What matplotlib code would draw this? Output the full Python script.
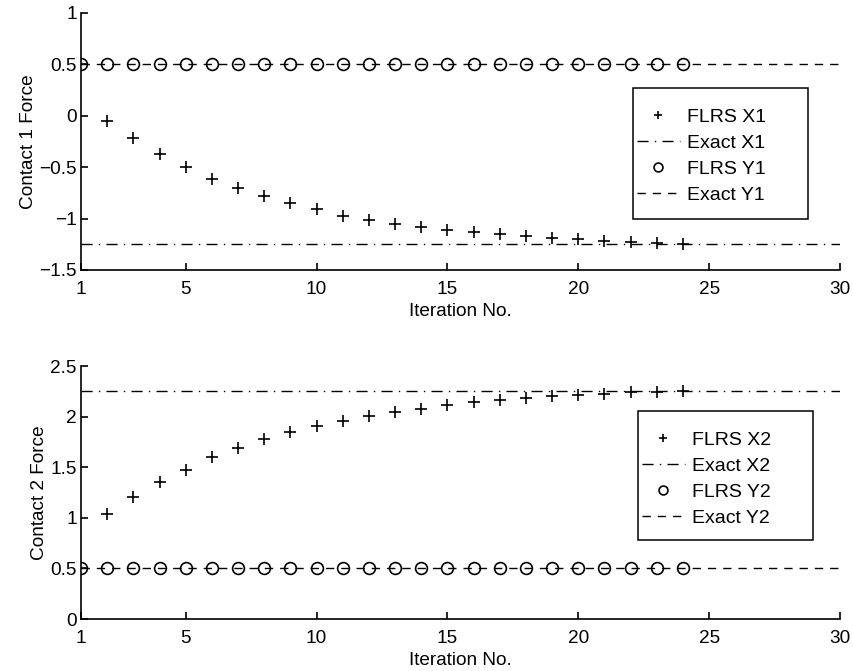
import matplotlib
matplotlib.use("Agg")
import matplotlib.pyplot as plt
from matplotlib.patches import Rectangle

plt.rcParams['font.family'] = ['Liberation Sans', 'DejaVu Sans']

iterations = list(range(2, 25))
iterations_y = list(range(1, 25))

flrs_x1 = [-0.05, -0.22, -0.37, -0.50, -0.61, -0.70, -0.785, -0.85, -0.91, -0.97,
           -1.01, -1.05, -1.08, -1.11, -1.13, -1.15, -1.17, -1.19, -1.20, -1.22,
           -1.23, -1.24, -1.245]
flrs_y1 = [0.5] * 24
exact_x1 = -1.25
exact_y1 = 0.5

flrs_x2 = [1.04, 1.21, 1.35, 1.47, 1.60, 1.69, 1.78, 1.85, 1.91, 1.96,
           2.01, 2.05, 2.08, 2.11, 2.14, 2.16, 2.18, 2.20, 2.21, 2.22,
           2.24, 2.24, 2.25]
flrs_y2 = [0.5] * 24
exact_x2 = 2.25
exact_y2 = 0.5

xticks = [1, 5, 10, 15, 20, 25, 30]
yticks_top = [-1.5, -1, -0.5, 0, 0.5, 1]
yticklabels_top = ['\u22121.5', '\u22121', '\u22120.5', '0', '0.5', '1']
yticks_bot = [0, 0.5, 1, 1.5, 2, 2.5]
yticklabels_bot = ['0', '0.5', '1', '1.5', '2', '2.5']

W, H = 854, 671
FS = 13.7
fig = plt.figure(figsize=(W / 100, H / 100), dpi=100)

def make_axes(l, t, r, b):
    return fig.add_axes([l / W, 1 - b / H, (r - l) / W, (b - t) / H])

AX1 = (81, 13, 840, 270)
AX2 = (81, 366, 840, 619)
ax1 = make_axes(*AX1)
ax2 = make_axes(*AX2)

def px_to_axes(axbox, px, py):
    l, t, r, b = axbox
    return (px - l) / (r - l), (b - py) / (b - t)

def draw(ax, axbox, fx, fy, ex, ey, n, yticks, yticklabels, ylim, ylabel, legbox):
    xs = [1, 30]
    h1, = ax.plot(iterations, fx, linestyle='none', marker='+', markersize=8.5,
                  markeredgewidth=1.2, color='black', label=f'FLRS X{n}')
    h2, = ax.plot(xs, [ex, ex], linestyle=(0, (8, 4.5, 1, 4.5)), linewidth=1.0,
                  color='black', label=f'Exact X{n}')
    h3, = ax.plot(iterations_y, fy, linestyle='none', marker='o', markersize=8.5,
                  markerfacecolor='none', markeredgewidth=1.2, color='black',
                  label=f'FLRS Y{n}')
    h4, = ax.plot(xs, [ey, ey], linestyle=(0, (6, 5)), linewidth=1.0, color='black',
                  label=f'Exact Y{n}')
    ax.set_xlim(1, 30)
    ax.set_ylim(*ylim)
    ax.set_xticks(xticks)
    ax.set_xticklabels([str(v) for v in xticks])
    ax.set_yticks(yticks)
    ax.set_yticklabels(yticklabels)
    ax.spines['top'].set_visible(False)
    ax.spines['right'].set_visible(False)
    ax.spines['left'].set_linewidth(1.2)
    ax.spines['bottom'].set_linewidth(1.2)
    ax.tick_params(direction='in', length=5, width=1.2, labelsize=FS)
    ax.tick_params(axis='x', pad=8.1)
    ax.tick_params(axis='y', pad=3)
    ax.set_xlabel('Iteration No.', fontsize=FS, labelpad=3.7)
    ax.set_ylabel(ylabel, fontsize=FS, labelpad=2)

    # legend frame
    bl, bt, br, bb = legbox
    x0, y0 = px_to_axes(axbox, bl, bb)
    x1, y1 = px_to_axes(axbox, br, bt)
    rect = Rectangle((x0, y0), x1 - x0, y1 - y0, transform=ax.transAxes,
                     facecolor='white', edgecolor='black', linewidth=1.1,
                     zorder=10, clip_on=False)
    ax.add_patch(rect)
    ax_, ay_ = px_to_axes(axbox, bl + 4, bt + 20)
    leg = ax.legend(handles=[h1, h2, h3, h4], loc='upper left',
                    bbox_to_anchor=(ax_, ay_), frameon=False, fontsize=14,
                    handlelength=2.2, handletextpad=0.35, labelspacing=0.43,
                    borderpad=0, borderaxespad=0, markerscale=0.75)
    leg.set_zorder(11)

draw(ax1, AX1, flrs_x1, flrs_y1, exact_x1, exact_y1, 1, yticks_top, yticklabels_top,
     (-1.5, 1), 'Contact 1 Force', (633, 88, 808, 219))
draw(ax2, AX2, flrs_x2, flrs_y2, exact_x2, exact_y2, 2, yticks_bot, yticklabels_bot,
     (0, 2.5), 'Contact 2 Force', (638, 411, 813, 540))

fig.savefig('out.png', dpi=100)
